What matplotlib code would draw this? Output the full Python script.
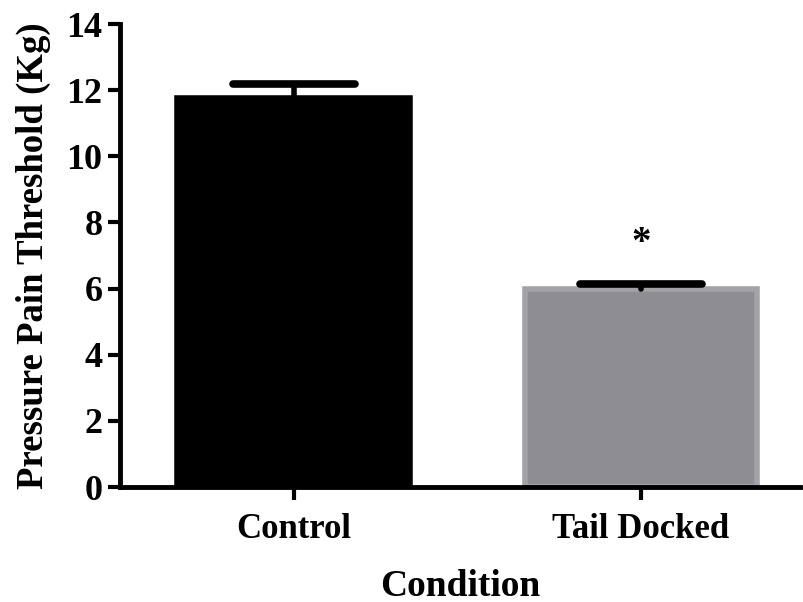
import matplotlib
matplotlib.use('Agg')
from matplotlib import pyplot as plt

# Data
conditions = ["Control", "Tail Docked"]
means = [11.76, 5.98]
sem = [0.42, 0.16]
star_y = 7.35


def main():
	plt.rcParams['font.family'] = 'Liberation Serif'
	plt.rcParams['font.weight'] = 'bold'

	fig = plt.figure(figsize=(8.04, 6.02), dpi=100)
	ax = fig.add_axes([0.149, 0.191, 0.846, 0.769])

	x = list(range(len(conditions)))
	faces = ['#000000', '#8e8d92']
	edges = ['#000000', '#a3a2a6']
	cap_half = 0.175
	for xi, m, e, fc, ec in zip(x, means, sem, faces, edges):
		ax.bar(xi, m, width=0.67, color=fc, edgecolor=ec, linewidth=4, zorder=2)
		# error bar: stem + rounded cap
		ax.plot([xi, xi], [m, m + e], color='black', lw=4, solid_capstyle='round', zorder=3)
		ax.plot([xi - cap_half, xi + cap_half], [m + e, m + e], color='black', lw=5.5,
			solid_capstyle='round', zorder=3)

	# significance marker
	ax.text(x[1], star_y, '*', ha='center', va='center', fontsize=28, fontweight='bold')

	ax.set_xlim(-0.501, 1.458)
	ax.set_ylim(0, 14)
	ax.set_yticks(range(0, 15, 2))
	ax.set_xticks(x)
	ax.set_xticklabels(conditions)

	for side in ['top', 'right']:
		ax.spines[side].set_visible(False)
	for side in ['left', 'bottom']:
		ax.spines[side].set_linewidth(3.5)

	ax.tick_params(axis='both', width=3, length=9, labelsize=26)
	ax.tick_params(axis='x', labelsize=25, pad=10)

	ax.set_ylabel('Pressure Pain Threshold (Kg)', fontsize=26.5, fontweight='bold', labelpad=11)
	ax.set_xlabel('Condition', fontsize=27, fontweight='bold', labelpad=16)

	plt.savefig('out.png')

if __name__ == "__main__":
	main()
